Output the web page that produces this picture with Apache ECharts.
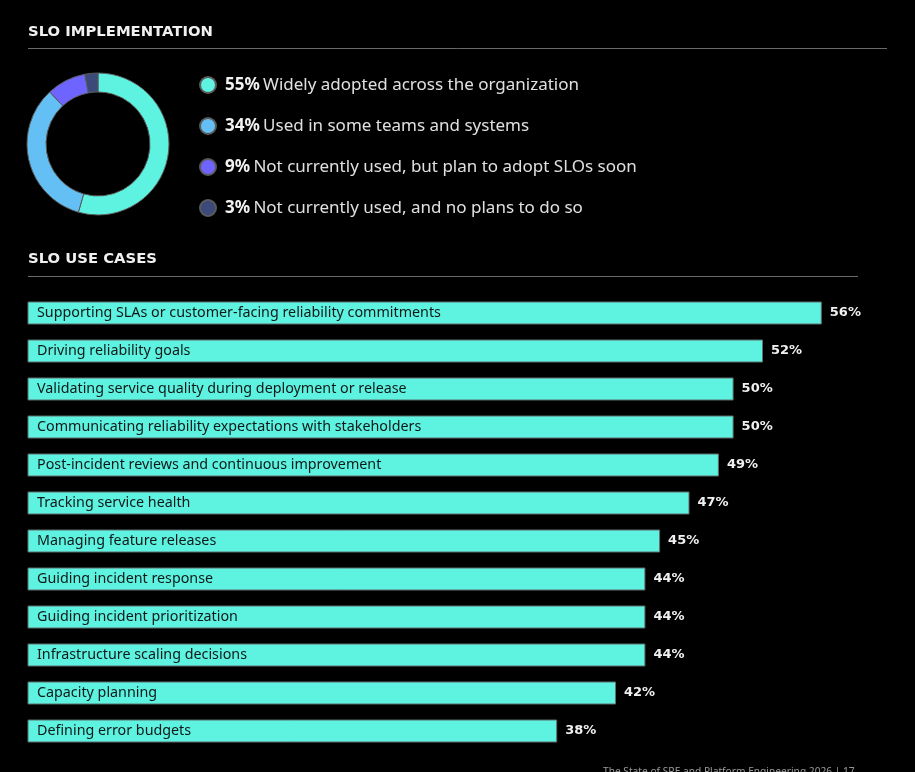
<!DOCTYPE html>
<html>
<head>
<meta charset="utf-8">
<style>
html,body{margin:0;padding:0;background:#000;}
#chart{width:915px;height:772px;}
</style>
<script src="https://cdn.jsdelivr.net/npm/echarts@6/dist/echarts.min.js"></script>
</head>
<body>
<div id="chart"></div>
<script>
// ---- Data ----
const implNames = [
  'Widely adopted across the organization',
  'Used in some teams and systems',
  'Not currently used, but plan to adopt SLOs soon',
  'Not currently used, and no plans to do so'
];
const implValues = [55, 34, 9, 3];
const implColors = ['#5ef2e0', '#64c0f4', '#6e64ff', '#3b4a78'];

const useCases = [
  'Supporting SLAs or customer-facing reliability commitments',
  'Driving reliability goals',
  'Validating service quality during deployment or release',
  'Communicating reliability expectations with stakeholders',
  'Post-incident reviews and continuous improvement',
  'Tracking service health',
  'Managing feature releases',
  'Guiding incident response',
  'Guiding incident prioritization',
  'Infrastructure scaling decisions',
  'Capacity planning',
  'Defining error budgets'
];
const useValues = [56, 52, 50, 50, 49, 47, 45, 44, 44, 44, 42, 38];

const titles = ['SLO IMPLEMENTATION', 'SLO USE CASES'];
const footer = 'The State of SRE and Platform Engineering 2026 | 17';

// ---- Chart ----
const chart = echarts.init(document.getElementById('chart'));
const FONT = '"Noto Sans", sans-serif';

chart.setOption({
  backgroundColor: '#000',
  animation: false,
  graphic: [
    { type: 'text', left: 28, top: 25, style: { text: titles[0], fill: '#f0f0f0', font: 'bold 14.8px "DejaVu Sans"' } },
    { type: 'line', shape: { x1: 28, y1: 48.5, x2: 887, y2: 48.5 }, style: { stroke: '#6a6a6a', lineWidth: 1 } },
    { type: 'text', left: 28, top: 252, style: { text: titles[1], fill: '#f0f0f0', font: 'bold 14.8px "DejaVu Sans"' } },
    { type: 'line', shape: { x1: 28, y1: 276.5, x2: 858, y2: 276.5 }, style: { stroke: '#6a6a6a', lineWidth: 1 } },
    { type: 'text', left: 603, top: 767, style: { text: footer, fill: '#9a9a9a', font: '10.2px ' + FONT } }
  ],
  legend: {
    orient: 'vertical',
    left: 194,
    top: 70,
    itemWidth: 16,
    itemHeight: 16,
    itemGap: 21,
    icon: 'circle',
    data: implNames,
    formatter: function (name) {
      const i = implNames.indexOf(name);
      return '{b|' + implValues[i] + '%} {n|' + name + '}';
    },
    textStyle: {
      color: '#e8e8e8',
      lineHeight: 20,
      rich: {
        b: { fontFamily: FONT, fontWeight: 'bold', fontSize: 17, color: '#f2f2f2', lineHeight: 20, padding: [0, 0, 0, 4] },
        n: { fontFamily: FONT, fontSize: 17, color: '#e0e0e0', lineHeight: 20 }
      }
    }
  },
  grid: { left: 28, right: 34.4, top: 294, height: 456, containLabel: false },
  xAxis: {
    type: 'value', min: 2, max: 60, show: false, splitLine: { show: false }
  },
  yAxis: {
    type: 'category', data: useCases, inverse: true, show: false
  },
  series: [
    {
      type: 'pie',
      center: [98, 144],
      radius: [52, 71],
      label: { show: false },
      labelLine: { show: false },
      silent: true,
      itemStyle: { borderColor: '#5a5a5a', borderWidth: 1 },
      data: implNames.map((n, i) => ({ name: n, value: implValues[i], itemStyle: { color: implColors[i] } }))
    },
    {
      type: 'bar',
      data: useValues,
      barWidth: 23,
      itemStyle: { color: '#5ef2e0', borderColor: '#5f6f6d', borderWidth: 1 },
      silent: true
    },
    {
      type: 'bar',
      data: useValues,
      barWidth: 23,
      barGap: '-100%',
      itemStyle: { color: 'rgba(0,0,0,0)' },
      silent: true,
      label: {
        show: true,
        position: 'insideLeft',
        distance: 9,
        formatter: p => useCases[p.dataIndex],
        color: '#101818',
        fontFamily: FONT,
        fontSize: 14.3
      }
    },
    {
      type: 'bar',
      data: useValues,
      barWidth: 23,
      barGap: '-100%',
      itemStyle: { color: 'rgba(0,0,0,0)' },
      silent: true,
      label: {
        show: true,
        position: 'right',
        distance: 8,
        formatter: p => p.value + '%',
        color: '#f0f0f0',
        fontFamily: '"DejaVu Sans"',
        fontWeight: 'bold',
        fontSize: 13
      }
    }
  ]
});
</script>
</body>
</html>
